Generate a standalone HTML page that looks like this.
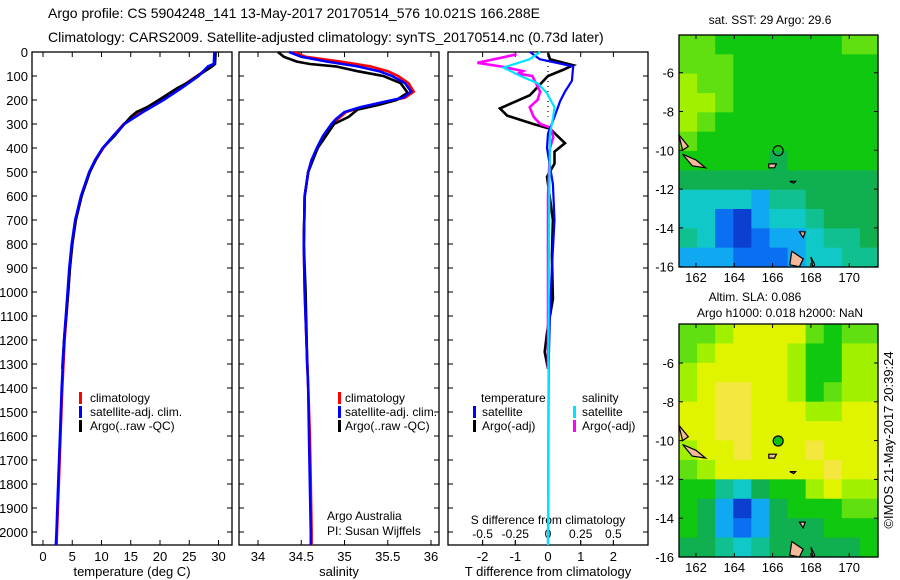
<!DOCTYPE html>
<html><head><meta charset="utf-8">
<style>
body{margin:0;background:#fff;}
svg{display:block;font-family:"Liberation Sans",sans-serif;}
text{fill:#000;}
</style></head>
<body>
<svg id="fig" width="900" height="580" viewBox="0 0 900 580" xmlns="http://www.w3.org/2000/svg">
<rect width="900" height="580" fill="#fff"/>
<text x="48" y="18" font-size="14">Argo profile: CS 5904248_141 13-May-2017 20170514_576 10.021S 166.288E</text>
<text x="48" y="42" font-size="14">Climatology: CARS2009. Satellite-adjusted climatology: synTS_20170514.nc (0.73d later)</text>
<g id="p1"></g>
<g id="p2"></g>
<g id="p3"></g>
<g id="m1"></g>
<g id="m2"></g>
<text transform="translate(893,440) rotate(-90)" text-anchor="middle" font-size="13">©IMOS 21-May-2017 20:39:24</text>
</svg>
<script>
// ---------- data ----------
const depthTicks=[0,100,200,300,400,500,600,700,800,900,1000,1100,1200,1300,1400,1500,1600,1700,1800,1900,2000];
const tempTicks=[0,5,10,15,20,25,30];
const salTicks=[34,34.5,35,35.5,36];
const tdiffTicks=[-2,-1,0,1,2];
const sdiffTicks=[-0.5,-0.25,0,0.25,0.5];
const sdiffTickLabels=["-0.5","-0.25","0","0.25","0.5"];

const tClimDepth=[0,50,60,100,150,200,250,300,350,400,450,500,600,700,800,900,1000,1200,1400,1600,1800,2000,2054];
const tClimVal=[29.4,29.3,28.6,26.3,23.3,20.3,16.8,13.8,12.0,10.3,9.0,8.0,6.6,5.6,5.0,4.6,4.3,3.7,3.3,3.0,2.7,2.4,2.3];
const tSatVal=[29.3,29.2,28.2,26.6,23.7,20.6,17.1,13.9,12.0,10.2,8.9,7.9,6.5,5.5,4.9,4.5,4.2,3.6,3.2,2.9,2.6,2.3,2.2];
const tArgoDepth=[0,50,60,100,130,150,200,230,250,270,300,350,400,450,500,600,700,800,900,1000,1200,1320];
const tArgoVal=[29.5,29.4,28.9,26.4,24.6,23.0,19.8,17.8,16.0,15.0,13.9,12.2,10.2,9.0,8.0,6.6,5.6,5.0,4.6,4.3,3.6,3.3];

const sClimDepth=[0,20,40,60,80,100,130,165,190,210,230,250,280,300,350,400,450,500,600,800,1000,1200,1400,1600,1800,2000,2054];
const sClimVal=[34.41,34.55,34.95,35.3,35.5,35.62,35.74,35.8,35.7,35.45,35.2,35.02,34.92,34.86,34.76,34.69,34.62,34.58,34.54,34.53,34.54,34.56,34.58,34.6,34.61,34.62,34.62];
const sSatVal=[34.36,34.5,34.8,35.15,35.4,35.55,35.7,35.77,35.68,35.43,35.18,35.0,34.9,34.85,34.75,34.68,34.62,34.58,34.54,34.53,34.54,34.56,34.58,34.59,34.6,34.61,34.61];
const sArgoDepth=[0,20,40,50,60,80,100,130,170,200,220,240,270,300,400,500,600,800,1000,1320];
const sArgoVal=[34.23,34.3,34.45,34.6,34.9,35.15,35.45,35.65,35.73,35.6,35.4,35.15,35.05,34.88,34.69,34.58,34.54,34.53,34.55,34.57];

const dTSatDepth=[0,30,60,120,165,205,270,340,400,550,700,900,1080,1300,2054];
const dTSatVal=[-0.55,-0.25,0.77,0.73,0.52,0.37,0.2,0.0,-0.03,0.15,0.2,0.12,0.06,0.02,0.0];
const dTArgoDepth=[5,30,55,75,100,180,235,265,300,320,380,415,465,520,700,850,1030,1170,1250,1320];
const dTArgoVal=[0,0.06,0.77,0.45,0,-0.55,-1.47,-1.25,-0.45,0.06,0.52,0.2,0.2,-0.03,0.15,0.12,0.15,-0.03,-0.1,0];
const dSSatDepth=[0,30,65,100,130,170,230,270,340,600,1000,2054];
const dSSatVal=[-0.06,-0.14,-0.34,-0.21,-0.08,-0.01,0.05,0.04,0.015,0.01,0.005,0.0];
const dSArgoDepth=[10,45,62,80,90,100,165,200,230,270,300,315,355,400,600,1000,1320];
const dSArgoVal=[-0.24,-0.54,-0.34,-0.19,-0.23,-0.12,-0.06,-0.08,-0.14,-0.11,-0.06,0.02,0.04,0.015,0.0,0.0,0.0];

// map grids (rows north->south, 12 rows x 11 cols), palette indices
const sstGrid=[
[7,7,6,6,6,6,6,6,6,7,7],
[7,7,7,6,6,6,6,6,6,6,6],
[8,7,7,6,6,6,6,6,6,6,6],
[8,8,7,6,6,6,6,6,6,6,6],
[8,7,6,6,6,6,6,6,6,6,6],
[7,6,6,6,6,6,6,6,6,6,6],
[6,6,6,6,6,5,6,6,6,6,6],
[5,5,5,5,5,5,5,5,5,5,5],
[3,3,3,3,2,4,4,5,5,5,5],
[3,3,1,0,2,3,3,4,5,5,5],
[4,3,1,0,1,2,2,3,4,4,5],
[2,2,2,1,1,1,2,3,3,4,4]];
const slaGrid=[
[7,7,8,9,9,9,9,7,6,7,7],
[7,8,9,9,9,9,8,6,6,8,8],
[8,9,9,9,9,9,8,6,6,8,8],
[8,9,10,10,9,9,8,6,7,8,8],
[9,9,10,10,9,9,9,8,8,9,9],
[9,9,10,10,9,9,9,9,9,9,9],
[8,9,9,10,9,9,9,10,9,9,9],
[7,8,9,9,9,9,9,9,10,9,9],
[6,6,4,3,5,6,6,8,9,8,8],
[6,5,2,0,2,5,6,6,6,7,7],
[6,5,2,1,2,5,5,5,6,6,6],
[5,5,4,3,4,5,5,5,5,5,6]];
const palette=["#0a3fd0","#0a6ff0","#10a8f0","#10c8c8","#10c090","#10b050","#10c810","#60e010","#a0f000","#e0f400","#f4e840"];
const lonTicks=[162,164,166,168,170];
const latTicks=[-6,-8,-10,-12,-14,-16];

// ---------- helpers ----------
const NS="http://www.w3.org/2000/svg";
function mk(tag,attrs,parent){const e=document.createElementNS(NS,tag);for(const k in attrs)e.setAttribute(k,attrs[k]);parent.appendChild(e);return e;}
const Y0=52,PXM=0.24;
function yD(d){return Y0+d*PXM;}
function stepPath(depths,vals,xf){
  let s="";
  for(let i=0;i<depths.length;i++){
    const x=xf(vals[i]).toFixed(1),y=yD(depths[i]).toFixed(1);
    s+=(i?"L":"M")+x+","+y;
  }
  return s;
}
function frame(g,x0,x1,showDepth){
  const r=mk("rect",{x:x0,y:52,width:x1-x0,height:493,fill:"none",stroke:"#000","stroke-width":1.3},g);
  
  
  depthTicks.forEach(d=>{
    const y=yD(d);
    mk("line",{x1:x0,x2:x0+5,y1:y,y2:y,stroke:"#000"},g);
    mk("line",{x1:x1-5,x2:x1,y1:y,y2:y,stroke:"#000"},g);
    if(showDepth){
      const t=mk("text",{x:x0-4,y:y+5,"text-anchor":"end","font-size":13},g);
      t.textContent=d;
      
      
    }
  });
}
function xticks(g,ticks,labels,xf,ylab,top,bottom){
  ticks.forEach((v,i)=>{
    const x=xf(v);
    if(bottom) mk("line",{x1:x,x2:x,y1:545,y2:540,stroke:"#000"},g);
    if(top) mk("line",{x1:x,x2:x,y1:52,y2:57,stroke:"#000"},g);
    const t=mk("text",{x:x,y:ylab,"text-anchor":"middle","font-size":13},g);
    t.textContent=labels[i];
    
    
  });
}
function line(g,d,color,name,w){
  const p=mk("path",{d:d,fill:"none",stroke:color,"stroke-width":w||2.6,"stroke-linejoin":"miter"},g);
  
  
}
function txt(g,x,y,s,name,size,anchor){
  const t=mk("text",{x:x,y:y,"font-size":size||13,"text-anchor":anchor||"start"},g);
  t.textContent=s;
  
  
}
function legBar(g,x,y,color){
  const r=mk("rect",{x:x,y:y-11,width:3,height:12,fill:color},g);
  
  
}

// ---------- panel 1 ----------
const g1=document.getElementById("p1");
const xT=v=>43+v*5.85;
frame(g1,32,232,true);
xticks(g1,tempTicks,tempTicks.map(String),xT,561,true,true);
line(g1,stepPath(tClimDepth,tClimVal,xT),"#f00","temp-climatology-line");
line(g1,stepPath(tArgoDepth,tArgoVal,xT),"#000","temp-argo-line");
line(g1,stepPath(tClimDepth,tSatVal,xT),"#0000ff","temp-satellite-line");
txt(g1,132,576,"temperature (deg C)","x-axis-title",13,"middle");
legBar(g1,79,403,"#f00");txt(g1,90,402,"climatology","legend-climatology",12);
legBar(g1,79,417,"#00f");txt(g1,90,416,"satellite-adj. clim.","legend-satellite",12);
legBar(g1,79,431,"#000");txt(g1,90,430,"Argo(..raw -QC)","legend-argo",12);

// ---------- panel 2 ----------
const g2=document.getElementById("p2");
const xS=v=>258+(v-34)*86.5;
frame(g2,239,439,false);
xticks(g2,salTicks,["34","34.5","35","35.5","36"],xS,561,true,true);
line(g2,stepPath(sClimDepth,sClimVal,xS),"#f00","sal-climatology-line");
line(g2,stepPath(sArgoDepth,sArgoVal,xS),"#000","sal-argo-line");
line(g2,stepPath(sClimDepth,sSatVal,xS),"#0000ff","sal-satellite-line");
txt(g2,339,576,"salinity","x-axis-title",13,"middle");
legBar(g2,338,403,"#f00");txt(g2,345,402,"climatology","legend-climatology",12);
legBar(g2,338,417,"#00f");txt(g2,345,416,"satellite-adj. clim.","legend-satellite",12);
legBar(g2,338,431,"#000");txt(g2,345,430,"Argo(..raw -QC)","legend-argo",12);
txt(g2,327,520,"Argo Australia","credit-institution",12);
txt(g2,327,535,"PI: Susan Wijffels","credit-pi",12);

// ---------- panel 3 ----------
const g3=document.getElementById("p3");
const xDT=v=>548+v*32.7;
const xDS=v=>548+v*130.8;
frame(g3,448,648,false);
xticks(g3,tdiffTicks,tdiffTicks.map(String),xDT,561,true,true);
sdiffTicks.forEach((v,i)=>{
  const x=xDS(v);
  mk("line",{x1:x,x2:x,y1:545,y2:540,stroke:"#000"},g3);
  txt(g3,x,538,sdiffTickLabels[i],"s-diff-tick-label",12,"middle");
});
txt(g3,548,524,"S difference from climatology","s-diff-axis-title",12,"middle");
txt(g3,548,576,"T difference from climatology","t-diff-axis-title",13,"middle");
const dot=mk("line",{x1:548,x2:548,y1:56,y2:yD(270),stroke:"#000","stroke-width":1.2,"stroke-dasharray":"1,4"},g3);


line(g3,stepPath(dTArgoDepth,dTArgoVal,xDT),"#000","t-diff-argo-line");
line(g3,stepPath(dSArgoDepth,dSArgoVal,xDS),"#ff00ff","s-diff-argo-line");
line(g3,stepPath(dTSatDepth,dTSatVal,xDT),"#0000ff","t-diff-satellite-line",2.2);
line(g3,stepPath(dSSatDepth,dSSatVal,xDS),"#00e5ff","s-diff-satellite-line",2.2);
txt(g3,481,402,"temperature","legend-temperature-heading",12);
legBar(g3,473,417,"#00f");txt(g3,482,416,"satellite","legend-t-satellite",12);
legBar(g3,473,431,"#000");txt(g3,482,430,"Argo(-adj)","legend-t-argo",12);
txt(g3,582,402,"salinity","legend-salinity-heading",12);
legBar(g3,573,417,"#00e5ff");txt(g3,582,416,"satellite","legend-s-satellite",12);
legBar(g3,573,431,"#ff00ff");txt(g3,582,430,"Argo(-adj)","legend-s-argo",12);

// ---------- maps ----------
function drawMap(id,grid,top,bottom,yNeg6,titles){
  const g=document.getElementById(id);
  const L=679,R=878;
  const lonX=lon=>696+(lon-162)*19.15;
  const latY=lat=>yNeg6+(-6-lat)*19.4;
  const rows=grid.length,cols=grid[0].length;
  const cw=(R-L)/cols,ch=(bottom-top)/rows;
  for(let r=0;r<rows;r++)for(let c=0;c<cols;c++){
    const cell=mk("rect",{x:(L+c*cw).toFixed(2),y:(top+r*ch).toFixed(2),width:(cw+0.6).toFixed(2),height:(ch+0.6).toFixed(2),fill:palette[grid[r][c]]},g);
    
    
  }
  // islands
  const isl=[[[161.1,-9.2],[161.6,-9.8],[161.3,-10]],[[161.3,-10.2],[162,-10.5],[162.5,-10.9],[161.8,-10.8]],[[165.8,-10.7],[166.2,-10.7],[166.1,-10.9],[165.8,-10.9]],[[166.9,-11.6],[167.2,-11.6],[167.1,-11.7]],[[167.0,-15.2],[167.6,-15.6],[167.4,-16],[166.9,-15.9]],[[167.4,-14.2],[167.7,-14.2],[167.6,-14.5]],[[168.0,-15.5],[168.2,-15.9],[168.1,-16]]];
  isl.forEach(poly=>{
    const p=mk("polygon",{points:poly.map(q=>lonX(q[0]).toFixed(1)+","+latY(q[1]).toFixed(1)).join(" "),fill:"#f5b89a",stroke:"#000","stroke-width":1.2},g);
    
    
  });
  const c=mk("circle",{cx:lonX(166.29),cy:latY(-10.02),r:5,fill:id==="m2"?"#10c010":"none",stroke:"#000","stroke-width":1.2},g);
  
  
  const f=mk("rect",{x:L,y:top,width:R-L,height:bottom-top,fill:"none",stroke:"#000","stroke-width":1.3},g);
  
  
  lonTicks.forEach(v=>{
    const x=lonX(v);
    mk("line",{x1:x,x2:x,y1:bottom,y2:bottom-4,stroke:"#000"},g);
    mk("line",{x1:x,x2:x,y1:top,y2:top+4,stroke:"#000"},g);
    txt(g,x,bottom+15,String(v),"lon-tick-label",13,"middle");
  });
  latTicks.forEach(v=>{
    const y=latY(v);
    mk("line",{x1:L,x2:L+4,y1:y,y2:y,stroke:"#000"},g);
    mk("line",{x1:R-4,x2:R,y1:y,y2:y,stroke:"#000"},g);
    txt(g,L-5,y+5,String(v),"lat-tick-label",13,"end");
  });
  titles.forEach(t=>txt(g,t[1],t[2],t[0],"map-title",12,"middle"));
}
drawMap("m1",sstGrid,35,267,72.7,[["sat. SST: 29 Argo: 29.6",770,24]]);
drawMap("m2",slaGrid,324,557,363,[["Altim. SLA: 0.086",755,301],["Argo h1000: 0.018 h2000: NaN",780,317]]);
</script>
</body></html>
